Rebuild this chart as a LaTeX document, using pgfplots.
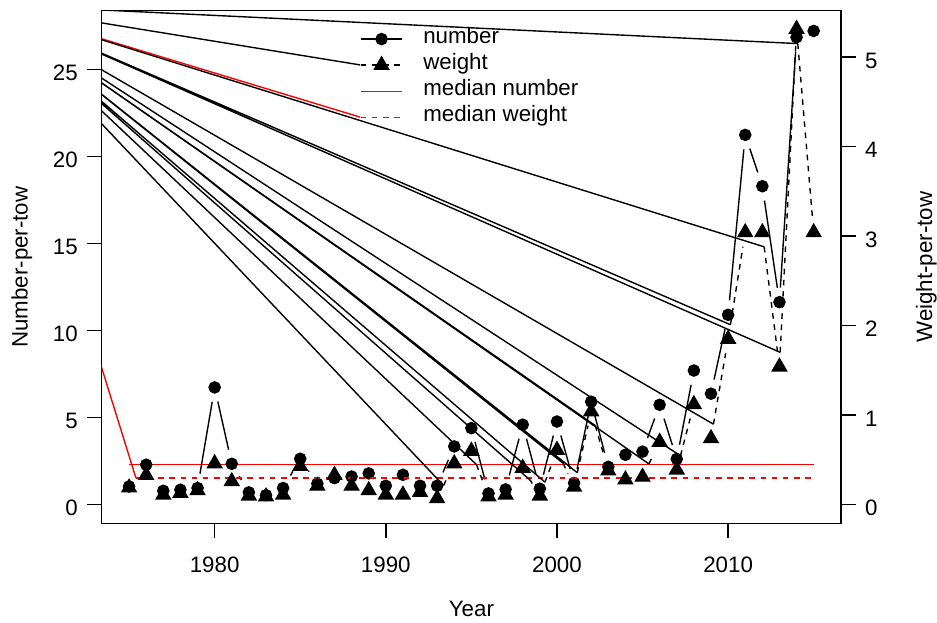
\documentclass[border=0pt]{standalone}
\usepackage{fontspec}
\setmainfont{Liberation Sans}
\usepackage{pgfplots}
\pgfplotsset{compat=1.18}

\newcommand{\rfont}{\fontsize{12}{14.4}\selectfont}

\pgfplotsset{
  rbase/.style={
    at={(0pt,0pt)}, anchor=south west,
    scale only axis, width=397.7pt, height=275.8pt,
    xmin=1973.4, xmax=2016.6,
    tick align=outside, major tick length=7.8pt,
    tick style={black, line width=0.75pt},
    axis line style={line width=0.75pt},
    tick label style={font=\rfont},
    /pgf/number format/assume math mode=true,
    /pgf/number format/1000 sep={},
    every axis plot/.append style={line width=0.75pt},
  },
  seg/.style={black, solid, shorten <=7.8pt, shorten >=7.8pt, forget plot},
  wseg/.style={black, dash pattern=on 3pt off 3pt, shorten <=7.8pt, shorten >=7.8pt, forget plot},
  pline/.style={black, solid, unbounded coords=jump, forget plot},
}

\begin{document}
\begin{tikzpicture}
\useasboundingbox (-54.7pt,-53.5pt) rectangle (449.3pt,281.6pt);

% ---------------- number-per-tow (left axis) ----------------
\begin{axis}[rbase,
  ymin=-1.08, ymax=28.38,
  xtick={1980,1990,2000,2010}, ytick={0,5,10,15,20,25},
  xtick pos=lower, ytick pos=left,
  xticklabel style={anchor=base, inner sep=0pt, yshift=-18.3pt},
  yticklabel style={anchor=east, inner sep=0pt, xshift=-4.9pt, yshift=-1.9pt},
  xlabel={Year}, ylabel={Number-per-tow},
  every axis x label/.style={at={(axis description cs:0.5,-0.1806)}, anchor=base, font=\rfont},
  every axis y label/.style={at={(axis description cs:-0.1001,0.5)}, rotate=90, anchor=base, font=\rfont},
]
% median number
\addplot[red, solid, forget plot] coordinates {(1975,2.30) (2015,2.30)};

% stray strokes to the legend samples
\addplot[pline] coordinates {(1966.81,28.736) (1988.5,25.27)};
\addplot[red, solid, forget plot] coordinates {(1966.81,28.736) (1988.5,22.27)};

% number series, segments with gaps (type "b")
\addplot[seg] coordinates {(1979,0.96) (1980,6.74)};
\addplot[seg] coordinates {(1980,6.74) (1981,2.35)};
\addplot[seg] coordinates {(1981,2.35) (1982,0.71)};
\addplot[seg] coordinates {(1984,0.96) (1985,2.64)};
\addplot[seg] coordinates {(1985,2.64) (1986,1.21)};
\addplot[seg] coordinates {(1993,1.09) (1994,3.35)};
\addplot[seg] coordinates {(1995,4.40) (1996,0.65)};
\addplot[seg] coordinates {(1997,0.88) (1998,4.60)};
\addplot[seg] coordinates {(1998,4.60) (1999,0.92)};
\addplot[seg] coordinates {(1999,0.92) (2000,4.78)};
\addplot[seg] coordinates {(2000,4.78) (2001,1.25)};
\addplot[seg] coordinates {(2001,1.25) (2002,5.92)};
\addplot[seg] coordinates {(2002,5.92) (2003,2.18)};
\addplot[seg] coordinates {(2005,3.05) (2006,5.74)};
\addplot[seg] coordinates {(2006,5.74) (2007,2.63)};
\addplot[seg] coordinates {(2007,2.63) (2008,7.71)};
\addplot[seg] coordinates {(2009,6.38) (2010,10.91)};
\addplot[seg] coordinates {(2010,10.91) (2011,21.25)};
\addplot[seg] coordinates {(2011,21.25) (2012,18.30)};
\addplot[seg] coordinates {(2012,18.30) (2013,11.64)};
\addplot[seg] coordinates {(2013,11.64) (2014,26.86)};

\addplot[black, only marks, mark=*, mark size=3pt, forget plot] coordinates {
  (1975,1.05) (1976,2.30) (1977,0.80) (1978,0.86) (1979,0.96)
  (1980,6.74) (1981,2.35) (1982,0.71) (1983,0.55) (1984,0.96)
  (1985,2.64) (1986,1.21) (1987,1.53) (1988,1.62) (1989,1.80)
  (1990,1.09) (1991,1.72) (1992,1.09) (1993,1.09) (1994,3.35)
  (1995,4.40) (1996,0.65) (1997,0.88) (1998,4.60) (1999,0.92)
  (2000,4.78) (2001,1.25) (2002,5.92) (2003,2.18) (2004,2.87)
  (2005,3.05) (2006,5.74) (2007,2.63) (2008,7.71) (2009,6.38)
  (2010,10.91) (2011,21.25) (2012,18.30) (2013,11.64) (2014,26.86)
  (2015,27.22)};
\end{axis}

% ---------------- weight-per-tow (right axis) ----------------
\begin{axis}[rbase,
  ymin=-0.21, ymax=5.515,
  axis x line=none, axis y line*=right,
  ytick={0,1,2,3,4,5},
  yticklabel style={anchor=west, inner sep=0pt, xshift=4.9pt, yshift=-1.9pt},
  ylabel={Weight-per-tow},
  every axis y label/.style={at={(axis description cs:1.123,0.5)}, rotate=90, anchor=base, font=\rfont},
  legend style={draw=none, fill=none, at={(0.3494,0.9703)}, anchor=north west,
    inner sep=0pt, outer sep=0pt, row sep=0pt, font=\rfont,
    nodes={inner sep=0pt, text height=9.5pt, text depth=4.54pt},
    /tikz/every odd column/.append style={column sep=10.9pt}},
  legend cell align=left,
  legend image code/.code={\draw[mark repeat=2,mark phase=2,#1] plot coordinates {(0pt,0pt) (11.2pt,0pt) (22.4pt,0pt)};},
]
\addlegendimage{black, solid, line width=0.75pt, mark=*, mark size=3pt}
\addlegendentry{number}
\addlegendimage{black, line width=0.75pt, dash pattern=on 3pt off 3pt, mark=triangle*, mark size=4.4pt, mark options={solid}}
\addlegendentry{weight}
\addlegendimage{red, solid, line width=0.75pt}
\addlegendentry{median number}
\addlegendimage{red, line width=0.75pt, dash pattern=on 3pt off 3pt}
\addlegendentry{median weight}

% median weight
\addplot[red, dash pattern=on 3pt off 3pt, forget plot] coordinates {(1975.4,0.298) (2015,0.298)};
\addplot[red, solid, forget plot] coordinates {(1966.81,5.585) (1975.4,0.298)};

% stray strokes to the start of each dashed weight segment
\addplot[pline] coordinates {
  (1966.81,5.585) (1993.373,0.2154) (nan,nan)
  (1966.81,5.585) (1995.297,0.4484) (nan,nan)
  (1966.81,5.585) (1998.445,0.2721) (nan,nan)
  (1966.81,5.585) (1999.297,0.2516) (nan,nan)
  (1966.81,5.585) (2000.358,0.4633) (nan,nan)
  (1966.81,5.585) (2001.188,0.3578) (nan,nan)
  (1966.81,5.585) (2002.236,0.8844) (nan,nan)
  (1966.81,5.585) (2005.373,0.4554) (nan,nan)
  (1966.81,5.585) (2007.215,0.5466) (nan,nan)
  (1966.81,5.585) (2009.144,0.8995) (nan,nan)
  (1966.81,5.585) (2010.134,2.0098) (nan,nan)
  (1966.81,5.585) (2012.107,2.8794) (nan,nan)
  (1966.81,5.585) (2013.043,1.7014) (nan,nan)
  (1966.81,5.585) (2014.071,5.1486)};

% weight series, dashed segments with gaps
\addplot[wseg] coordinates {(1993,0.07) (1994,0.46)};
\addplot[wseg] coordinates {(1995,0.60) (1996,0.09)};
\addplot[wseg] coordinates {(1998,0.41) (1999,0.10)};
\addplot[wseg] coordinates {(1999,0.10) (2000,0.61)};
\addplot[wseg] coordinates {(2000,0.61) (2001,0.20)};
\addplot[wseg] coordinates {(2001,0.20) (2002,1.04)};
\addplot[wseg] coordinates {(2002,1.04) (2003,0.38)};
\addplot[wseg] coordinates {(2005,0.31) (2006,0.70)};
\addplot[wseg] coordinates {(2007,0.39) (2008,1.12)};
\addplot[wseg] coordinates {(2009,0.74) (2010,1.85)};
\addplot[wseg] coordinates {(2010,1.85) (2011,3.04)};
\addplot[wseg] coordinates {(2012,3.04) (2013,1.54)};
\addplot[wseg] coordinates {(2013,1.54) (2014,5.31)};
\addplot[wseg] coordinates {(2014,5.31) (2015,3.04)};

\addplot[black, only marks, mark=triangle*, mark size=4.4pt, forget plot] coordinates {
  (1975,0.19) (1976,0.33) (1977,0.11) (1978,0.13) (1979,0.16)
  (1980,0.46) (1981,0.26) (1982,0.10) (1983,0.09) (1984,0.11)
  (1985,0.43) (1986,0.21) (1987,0.33) (1988,0.21) (1989,0.16)
  (1990,0.11) (1991,0.11) (1992,0.14) (1993,0.07) (1994,0.46)
  (1995,0.60) (1996,0.09) (1997,0.11) (1998,0.41) (1999,0.10)
  (2000,0.61) (2001,0.20) (2002,1.04) (2003,0.38) (2004,0.28)
  (2005,0.31) (2006,0.70) (2007,0.39) (2008,1.12) (2009,0.74)
  (2010,1.85) (2011,3.04) (2012,3.04) (2013,1.54) (2014,5.31)
  (2015,3.04)};
\end{axis}
\end{tikzpicture}
\end{document}
